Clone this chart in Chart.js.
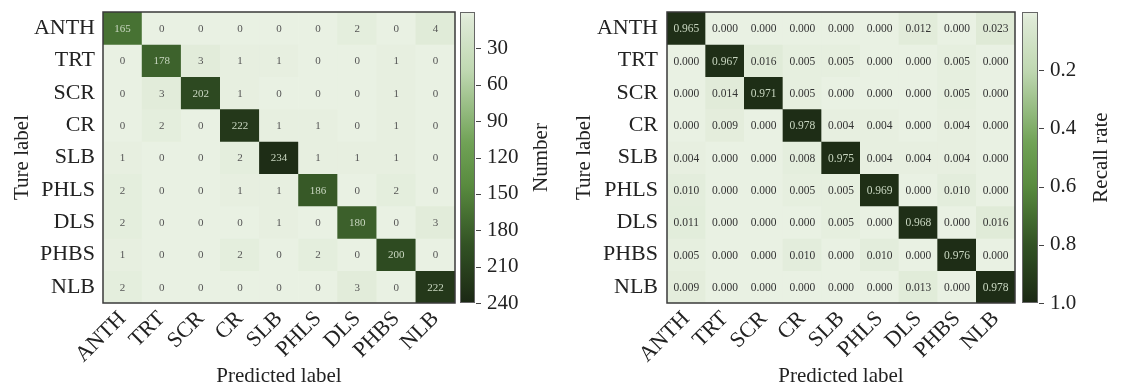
<!DOCTYPE html>
<html>
<head>
<meta charset="utf-8">
<script src="https://cdn.jsdelivr.net/npm/chart.js@4.4.0/dist/chart.umd.min.js"></script>
<style>
  body { margin: 0; background: #fff; }
  #wrap { position: relative; width: 1125px; height: 389px; }
  #left { position: absolute; left: 0; top: 0; }
  #right { position: absolute; left: 562px; top: 0; }
</style>
</head>
<body>
<div id="wrap">
  <canvas id="left" width="562" height="389"></canvas>
  <canvas id="right" width="563" height="389"></canvas>
</div>
<script>
// class names, same order for true (rows) and predicted (columns)
var classes = ["ANTH", "TRT", "SCR", "CR", "SLB", "PHLS", "DLS", "PHBS", "NLB"];

// confusion matrix, counts
var counts = [
  [165, 0, 0, 0, 0, 0, 2, 0, 4],
  [0, 178, 3, 1, 1, 0, 0, 1, 0],
  [0, 3, 202, 1, 0, 0, 0, 1, 0],
  [0, 2, 0, 222, 1, 1, 0, 1, 0],
  [1, 0, 0, 2, 234, 1, 1, 1, 0],
  [2, 0, 0, 1, 1, 186, 0, 2, 0],
  [2, 0, 0, 0, 1, 0, 180, 0, 3],
  [1, 0, 0, 2, 0, 2, 0, 200, 0],
  [2, 0, 0, 0, 0, 0, 3, 0, 222]
];

// confusion matrix, recall rate
var recall = [
  [0.965, 0.000, 0.000, 0.000, 0.000, 0.000, 0.012, 0.000, 0.023],
  [0.000, 0.967, 0.016, 0.005, 0.005, 0.000, 0.000, 0.005, 0.000],
  [0.000, 0.014, 0.971, 0.005, 0.000, 0.000, 0.000, 0.005, 0.000],
  [0.000, 0.009, 0.000, 0.978, 0.004, 0.004, 0.000, 0.004, 0.000],
  [0.004, 0.000, 0.000, 0.008, 0.975, 0.004, 0.004, 0.004, 0.000],
  [0.010, 0.000, 0.000, 0.005, 0.005, 0.969, 0.000, 0.010, 0.000],
  [0.011, 0.000, 0.000, 0.000, 0.005, 0.000, 0.968, 0.000, 0.016],
  [0.005, 0.000, 0.000, 0.010, 0.000, 0.010, 0.000, 0.976, 0.000],
  [0.009, 0.000, 0.000, 0.000, 0.000, 0.000, 0.013, 0.000, 0.978]
];

var countTicks = [30, 60, 90, 120, 150, 180, 210, 240];
var recallTicks = [0.2, 0.4, 0.6, 0.8, 1.0];

var serif = "'Liberation Serif', 'Times New Roman', serif";
Chart.defaults.font.family = serif;
Chart.defaults.color = "#222";

// green colormap, t in 0..1
var stops = [
  [0.0, [233, 241, 227]],
  [0.015, [224, 235, 216]],
  [0.2, [192, 216, 178]],
  [0.45, [112, 162, 86]],
  [0.6, [88, 138, 62]],
  [0.8, [50, 82, 36]],
  [1.0, [27, 40, 20]]
];
function greens(t) {
  t = Math.max(0, Math.min(1, t));
  for (var i = 1; i < stops.length; i++) {
    if (t <= stops[i][0]) {
      var a = stops[i - 1], b = stops[i];
      var f = (t - a[0]) / (b[0] - a[0]);
      var c = a[1].map(function (v, k) { return Math.round(v + (b[1][k] - v) * f); });
      return "rgb(" + c.join(",") + ")";
    }
  }
  return "rgb(27,40,20)";
}

// scale boxes keep a fixed size, no extra padding around the plot
function fixBox(w, h) {
  return function (s) {
    if (w) s.width = w;
    if (h) s.height = h;
    s.paddingTop = 0;
    s.paddingBottom = 0;
  };
}

// draws cell numbers, frame, colorbar and its title
var matrixDecor = {
  id: "matrixDecor",
  afterDatasetsDraw: function (chart, args, o) {
    var ctx = chart.ctx, a = chart.chartArea;
    ctx.save();
    ctx.font = o.cellFont;
    ctx.textAlign = "center";
    ctx.textBaseline = "middle";
    chart.data.datasets.forEach(function (ds, di) {
      chart.getDatasetMeta(di).data.forEach(function (bar, j) {
        var v = ds.data[j].v;
        ctx.fillStyle = v / o.vmax > 0.5 ? o.lightText : o.darkText;
        ctx.fillText(o.fmt(v), bar.x, (bar.y + bar.base) / 2 + 1);
      });
    });
    ctx.strokeStyle = "#3a3a3a";
    ctx.lineWidth = 1.5;
    ctx.strokeRect(a.left, a.top, a.right - a.left, a.bottom - a.top);

    var cb = chart.scales.cb;
    var x0 = a.right + o.cbGap, w = o.cbWidth;
    var top = cb.getPixelForValue(0), bot = cb.getPixelForValue(o.vmax);
    var g = ctx.createLinearGradient(0, top, 0, bot);
    for (var k = 0; k <= 40; k++) g.addColorStop(k / 40, greens(k / 40));
    ctx.fillStyle = g;
    ctx.fillRect(x0, top, w, bot - top);
    ctx.strokeStyle = "#666";
    ctx.lineWidth = 1;
    ctx.strokeRect(x0 + 0.5, top + 0.5, w - 1, bot - top - 1);
    ctx.strokeStyle = "#444";
    cb.ticks.forEach(function (t) {
      var y = Math.round(cb.getPixelForValue(t.value)) + 0.5;
      ctx.beginPath();
      ctx.moveTo(x0 + w + 1, y);
      ctx.lineTo(x0 + w + 6, y);
      ctx.stroke();
    });

    ctx.translate(o.titleX, (a.top + a.bottom) / 2);
    ctx.rotate(-Math.PI / 2);
    ctx.font = "21px " + serif;
    ctx.fillStyle = "#222";
    ctx.fillText(o.cbTitle, 0, 0);
    ctx.restore();
  }
};

function makeMatrix(canvasId, values, vmax, cbTicks, p) {
  var datasets = values.map(function (row, r) {
    return {
      data: row.map(function (v, c) {
        return { x: classes[c], y: [r - 0.5, r + 0.5], v: v };
      }),
      backgroundColor: function (ctx) {
        return ctx.raw ? greens(ctx.raw.v / vmax) : "#fff";
      },
      borderWidth: 0,
      barPercentage: 1,
      categoryPercentage: 1,
      grouped: false
    };
  });

  return new Chart(document.getElementById(canvasId), {
    type: "bar",
    data: { labels: classes, datasets: datasets },
    options: {
      responsive: false,
      animation: false,
      events: [],
      layout: { padding: { top: 12, left: 0, right: 0, bottom: 0 } },
      plugins: {
        legend: { display: false },
        tooltip: { enabled: false },
        matrixDecor: {
          vmax: vmax,
          fmt: p.fmt,
          cellFont: p.cellFont,
          lightText: "#c9d7c1",
          darkText: p.darkText,
          cbGap: p.cbGap,
          cbWidth: p.cbWidth,
          titleX: p.titleX,
          cbTitle: p.cbTitle
        }
      },
      scales: {
        x: {
          grid: { display: false, drawTicks: false },
          border: { display: false },
          ticks: {
            autoSkip: false,
            minRotation: 45,
            maxRotation: 45,
            padding: 3,
            font: { size: 22 },
            color: "#222"
          },
          title: {
            display: true,
            text: "Predicted label",
            font: { size: 21 },
            color: "#222",
            padding: { top: 0, bottom: 0 }
          },
          afterFit: fixBox(0, 86)
        },
        y: {
          type: "linear",
          min: -0.5,
          max: 8.5,
          reverse: true,
          grid: { display: false, drawTicks: false },
          border: { display: false },
          afterBuildTicks: function (s) {
            s.ticks = classes.map(function (c, i) { return { value: i }; });
          },
          ticks: {
            autoSkip: false,
            padding: p.yPad,
            font: { size: 22 },
            color: "#222",
            callback: function (v) { return classes[v]; }
          },
          title: {
            display: true,
            text: "Ture label",
            font: { size: 21 },
            color: "#222",
            padding: { top: 10, bottom: 0 }
          },
          afterFit: fixBox(p.yWidth, 0)
        },
        cb: {
          type: "linear",
          position: "right",
          min: 0,
          max: vmax,
          reverse: true,
          grid: { display: false, drawTicks: false },
          border: { display: false },
          afterBuildTicks: function (s) {
            s.ticks = cbTicks.map(function (v) { return { value: v }; });
          },
          ticks: {
            autoSkip: false,
            padding: p.cbPad,
            font: { size: 21 },
            color: "#222",
            callback: p.cbFmt
          },
          afterFit: fixBox(p.cbAxisWidth, 0)
        }
      }
    },
    plugins: [matrixDecor]
  });
}

makeMatrix("left", counts, 240, countTicks, {
  fmt: function (v) { return String(v); },
  cbFmt: function (v) { return String(v); },
  cellFont: "11px " + serif,
  darkText: "#555",
  yWidth: 103,
  yPad: 8,
  cbAxisWidth: 107,
  cbGap: 5,
  cbWidth: 15,
  cbPad: 32,
  titleX: 455 + 86,
  cbTitle: "Number"
});

makeMatrix("right", recall, 1.0, recallTicks, {
  fmt: function (v) { return v.toFixed(3); },
  cbFmt: function (v) { return v.toFixed(1); },
  cellFont: "11.5px " + serif,
  darkText: "#333",
  yWidth: 105,
  yPad: 9,
  cbAxisWidth: 110,
  cbGap: 7,
  cbWidth: 16,
  cbPad: 35,
  titleX: 453 + 86,
  cbTitle: "Recall rate"
});
</script>
</body>
</html>
